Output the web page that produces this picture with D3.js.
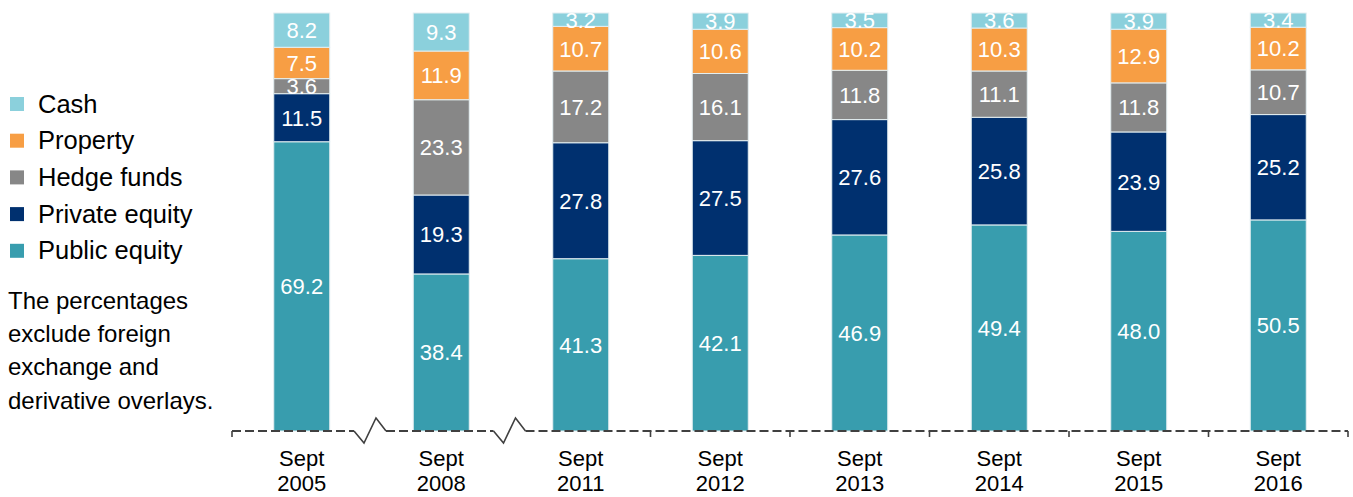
<!DOCTYPE html>
<html>
<head>
<meta charset="utf-8">
<script src="https://cdn.jsdelivr.net/npm/d3@7"></script>
<style>
  body { margin: 0; background: #fff; }
  svg { display: block; font-family: "Liberation Sans", Arial, sans-serif; }
</style>
</head>
<body>
<svg id="chart" width="1353" height="497"></svg>
<script>
// categories and series (percent of portfolio, stacked to 100%)
var periods = ["2005", "2008", "2011", "2012", "2013", "2014", "2015", "2016"];
var publicEquity  = [69.2, 38.4, 41.3, 42.1, 46.9, 49.4, 48.0, 50.5];
var privateEquity = [11.5, 19.3, 27.8, 27.5, 27.6, 25.8, 23.9, 25.2];
var hedgeFunds    = [3.6, 23.3, 17.2, 16.1, 11.8, 11.1, 11.8, 10.7];
var property      = [7.5, 11.9, 10.7, 10.6, 10.2, 10.3, 12.9, 10.2];
var cash          = [8.2, 9.3, 3.2, 3.9, 3.5, 3.6, 3.9, 3.4];

var seriesKeys = ["public", "private", "hedge", "property", "cash"];
var seriesNames = ["Public equity", "Private equity", "Hedge funds", "Property", "Cash"];
var seriesColors = ["#389dae", "#00306f", "#878787", "#f79e44", "#8bd0dc"];
var breaksAfter = ["2005", "2008"]; // axis is broken after these periods
var noteLines = ["The percentages", "exclude foreign", "exchange and", "derivative overlays."];

var rows = periods.map(function(p, i) {
    return {
        period: p,
        public: publicEquity[i],
        private: privateEquity[i],
        hedge: hedgeFunds[i],
        property: property[i],
        cash: cash[i]
    };
});

var svg = d3.select("#chart");
var baseY = 431, topY = 13;

var x = d3.scaleBand().domain(periods).range([232, 1348]).padding(0);
var y = d3.scaleLinear().domain([0, 1]).range([baseY, topY]);
var color = d3.scaleOrdinal().domain(seriesKeys).range(seriesColors);
var barW = 56;

var stacked = d3.stack().keys(seriesKeys).offset(d3.stackOffsetExpand)(rows);

var layer = svg.append("g").selectAll("g")
    .data(stacked)
    .enter().append("g")
    .attr("fill", function(d) { return color(d.key); });

layer.selectAll("rect")
    .data(function(d) { return d; })
    .enter().append("rect")
    .attr("x", function(d) { return x(d.data.period) + x.bandwidth() / 2 - barW / 2; })
    .attr("y", function(d) { return y(d[1]); })
    .attr("width", barW)
    .attr("height", function(d) { return y(d[0]) - y(d[1]); })
    .attr("stroke", "#e3eef1")
    .attr("stroke-width", 1);

// value labels
stacked.forEach(function(s) {
    svg.append("g").selectAll("text")
        .data(s)
        .enter().append("text")
        .attr("x", function(d) { return x(d.data.period) + x.bandwidth() / 2; })
        .attr("y", function(d) { return (y(d[0]) + y(d[1])) / 2; })
        .attr("dy", "0.36em")
        .attr("text-anchor", "middle")
        .attr("fill", "#fff")
        .style("font-size", "22px")
        .text(function(d) { return d.data[s.key].toFixed(1); });
});

// axis: dashed baseline with breaks and boundary ticks
var axis = svg.append("g").attr("stroke", "#404040").attr("fill", "none").attr("stroke-width", 2);
var bounds = periods.map(function(p) { return x(p); }).concat([x.range()[1]]);
var segStart = bounds[0];
bounds.forEach(function(bx, i) {
    var isBreak = i > 0 && i < periods.length && breaksAfter.indexOf(periods[i - 1]) >= 0;
    if (isBreak) {
        var cx = bx - 1.5;
        axis.append("line").attr("x1", segStart).attr("x2", cx - 16)
            .attr("y1", baseY).attr("y2", baseY).attr("stroke-dasharray", "9,4");
        axis.append("path")
            .attr("stroke-width", 1.6)
            .attr("d", "M" + (cx - 16) + "," + baseY + "L" + (cx - 6) + "," + (baseY + 12) +
                "L" + (cx + 6) + "," + (baseY - 13) + "L" + (cx + 16) + "," + baseY);
        segStart = cx + 16;
    } else {
        axis.append("line").attr("x1", bx).attr("x2", bx)
            .attr("y1", baseY).attr("y2", baseY + 6).attr("stroke-width", 1.6);
    }
});
axis.append("line").attr("x1", segStart).attr("x2", bounds[bounds.length - 1])
    .attr("y1", baseY).attr("y2", baseY).attr("stroke-dasharray", "9,4");

// category labels
var tl = svg.append("g").selectAll("text")
    .data(periods)
    .enter().append("text")
    .attr("x", function(d) { return x(d) + x.bandwidth() / 2; })
    .attr("text-anchor", "middle")
    .attr("fill", "#000")
    .style("font-size", "22px");
tl.append("tspan").attr("x", function(d) { return x(d) + x.bandwidth() / 2; }).attr("y", 466).text("Sept");
tl.append("tspan").attr("x", function(d) { return x(d) + x.bandwidth() / 2; }).attr("y", 491).text(function(d) { return d; });

// legend (top item = Cash)
var legend = svg.append("g").selectAll("g")
    .data(seriesKeys.slice().reverse())
    .enter().append("g")
    .attr("transform", function(d, i) { return "translate(10," + (97 + i * 36.7) + ")"; });
legend.append("rect").attr("width", 14).attr("height", 14)
    .attr("fill", function(d) { return color(d); });
legend.append("text").attr("x", 28).attr("y", 15.5)
    .style("font-size", "25.5px").attr("fill", "#000")
    .text(function(d) { return seriesNames[seriesKeys.indexOf(d)]; });

// note
svg.append("g").selectAll("text")
    .data(noteLines)
    .enter().append("text")
    .attr("x", 8)
    .attr("y", function(d, i) { return 308.5 + i * 33.4; })
    .style("font-size", "24px")
    .attr("fill", "#000")
    .text(function(d) { return d; });
</script>
</body>
</html>
